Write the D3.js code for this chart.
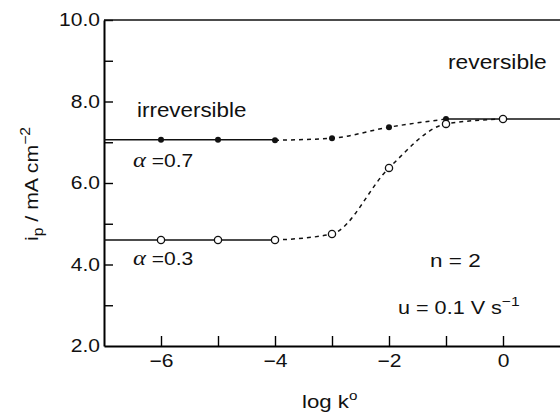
<!DOCTYPE html>
<html>
<head>
<meta charset="utf-8">
<script src="https://cdn.jsdelivr.net/npm/d3@7"></script>
<style>
  body { margin: 0; background: #fff; }
  svg { display: block; }
  text { font-family: "Liberation Sans", Arial, Helvetica, sans-serif; fill: #111; }
</style>
</head>
<body>
<div id="chart"></div>
<script>
// data
const kFilled = [-6, -5, -4, -3, -2, -1];               // alpha = 0.7
const ipFilled = [7.06, 7.06, 7.05, 7.10, 7.37, 7.57];
const kOpen = [-6, -5, -4, -3, -2, -1, 0];              // alpha = 0.3
const ipOpen = [4.60, 4.60, 4.60, 4.75, 6.37, 7.45, 7.57];
const ipIrrev07 = 7.06;
const ipIrrev03 = 4.60;
const ipRev = 7.57;
const kIrrevEnd = -4;
const kRevStart = -1;
const xTicks = [-6, -5, -4, -3, -2, -1, 0];
const yTicks = [3, 4, 5, 6, 7, 8, 9, 10];

const width = 560, height = 420;
const SX = 1.17; // the scanned lettering is wide

const svg = d3.select('#chart').append('svg')
  .attr('width', width)
  .attr('height', height);

const x = d3.scaleLinear().domain([-7, 1]).range([104, 560]);
const y = d3.scaleLinear().domain([2, 10]).range([346, 20]);

// stretch text horizontally
const widen = (sel, s) => sel.each(function() {
  const t = d3.select(this);
  const tx = +t.attr('x') || 0, ty = +t.attr('y') || 0;
  t.attr('x', null).attr('y', null)
   .attr('transform', `translate(${tx},${ty}) scale(${s},1)`);
});

// axes
const xAxis = svg.append('g')
  .attr('transform', `translate(0,${y(2)})`)
  .call(d3.axisBottom(x).tickValues(xTicks)
    .tickSizeInner(-10).tickSizeOuter(0).tickPadding(8)
    .tickFormat(d => d % 2 === 0 ? d3.format('d')(d) : ''));
xAxis.select('.domain').attr('stroke-width', 2);
xAxis.selectAll('.tick line').attr('stroke-width', 1.4);
xAxis.selectAll('text').attr('font-size', 18).attr('font-family', null).attr('fill', '#111')
  .call(widen, SX);

const yAxis = svg.append('g')
  .attr('transform', `translate(${x(-7)},0)`)
  .call(d3.axisLeft(y).tickValues(yTicks)
    .tickSizeInner(-9).tickSizeOuter(0).tickPadding(4)
    .tickFormat(d => d % 2 === 0 ? d3.format('.1f')(d) : ''));
yAxis.select('.domain').attr('stroke-width', 2);
yAxis.selectAll('.tick line').attr('stroke-width', 1.4);
yAxis.selectAll('text').attr('font-size', 18).attr('font-family', null).attr('fill', '#111')
  .call(widen, SX);
// 2.0 label at the corner
yAxis.append('text')
  .attr('x', -4).attr('y', y(2)).attr('dy', '0.32em')
  .attr('text-anchor', 'end').attr('font-size', 18)
  .text(d3.format('.1f')(2))
  .call(widen, SX);

// top frame line
svg.append('line')
  .attr('x1', x(-7)).attr('x2', x(1))
  .attr('y1', y(10)).attr('y2', y(10))
  .attr('stroke', '#111').attr('stroke-width', 1.6);

// solid limits
const solid = [
  [[x.domain()[0], ipIrrev07], [kIrrevEnd, ipIrrev07]],
  [[x.domain()[0], ipIrrev03], [kIrrevEnd, ipIrrev03]],
  [[kRevStart, ipRev], [x.domain()[1], ipRev]]
];
const line = d3.line().x(d => x(d[0])).y(d => y(d[1]));
svg.selectAll('.solid').data(solid).join('path')
  .attr('class', 'solid')
  .attr('d', line)
  .attr('fill', 'none').attr('stroke', '#111').attr('stroke-width', 1.4);

// dashed transition curves
const curve = d3.line().x(d => x(d[0])).y(d => y(d[1])).curve(d3.curveMonotoneX);
const dash07 = kFilled.map((k, i) => [k, ipFilled[i]]).filter(d => d[0] >= kIrrevEnd);
const dash03 = kOpen.map((k, i) => [k, ipOpen[i]]).filter(d => d[0] >= kIrrevEnd);
svg.selectAll('.dash').data([dash07, dash03]).join('path')
  .attr('class', 'dash')
  .attr('d', curve)
  .attr('fill', 'none').attr('stroke', '#111').attr('stroke-width', 1.5)
  .attr('stroke-dasharray', '4,4');

// markers
svg.selectAll('.filled').data(kFilled).join('circle')
  .attr('class', 'filled')
  .attr('cx', d => x(d)).attr('cy', (d, i) => y(ipFilled[i]))
  .attr('r', 3).attr('fill', '#111');
svg.selectAll('.open').data(kOpen).join('circle')
  .attr('class', 'open')
  .attr('cx', d => x(d)).attr('cy', (d, i) => y(ipOpen[i]))
  .attr('r', 3.6).attr('fill', '#fff').attr('stroke', '#111').attr('stroke-width', 1.3);

// labels
const label = (tx, ty, size, s) => svg.append('text')
  .attr('transform', `translate(${tx},${ty}) scale(${s},1)`)
  .attr('font-size', size);

label(137, 117, 20, 1.12).text('irreversible');
label(448, 69, 20, 1.14).text('reversible');

const alpha = (ty, v) => {
  const t = label(133, ty, 18, SX);
  t.append('tspan').attr('font-family', '"Liberation Serif", serif')
    .attr('font-style', 'italic').attr('font-size', 21).text('α');
  t.append('tspan').text(' =' + v);
};
alpha(167, '0.7');
alpha(265, '0.3');

label(430, 267, 18, 1.25).text('n = 2');
const u = label(398, 314, 18, 1.2);
u.append('tspan').text('u = 0.1 V s');
u.append('tspan').attr('font-size', 13).attr('dy', -8).text('−1');

// x title
const xt = label(302, 408, 19, SX);
xt.append('tspan').text('log k');
xt.append('tspan').attr('font-size', 13).attr('dy', -8).text('o');

// y title
const yt = svg.append('text')
  .attr('transform', 'translate(38,184) rotate(-90) scale(1.12,1)')
  .attr('text-anchor', 'middle')
  .attr('font-size', 19);
yt.append('tspan').text('i');
yt.append('tspan').attr('font-size', 14).attr('dy', 5).text('p');
yt.append('tspan').attr('dy', -5).text(' / mA cm');
yt.append('tspan').attr('font-size', 14).attr('dy', -8).text('−2');
</script>
</body>
</html>
